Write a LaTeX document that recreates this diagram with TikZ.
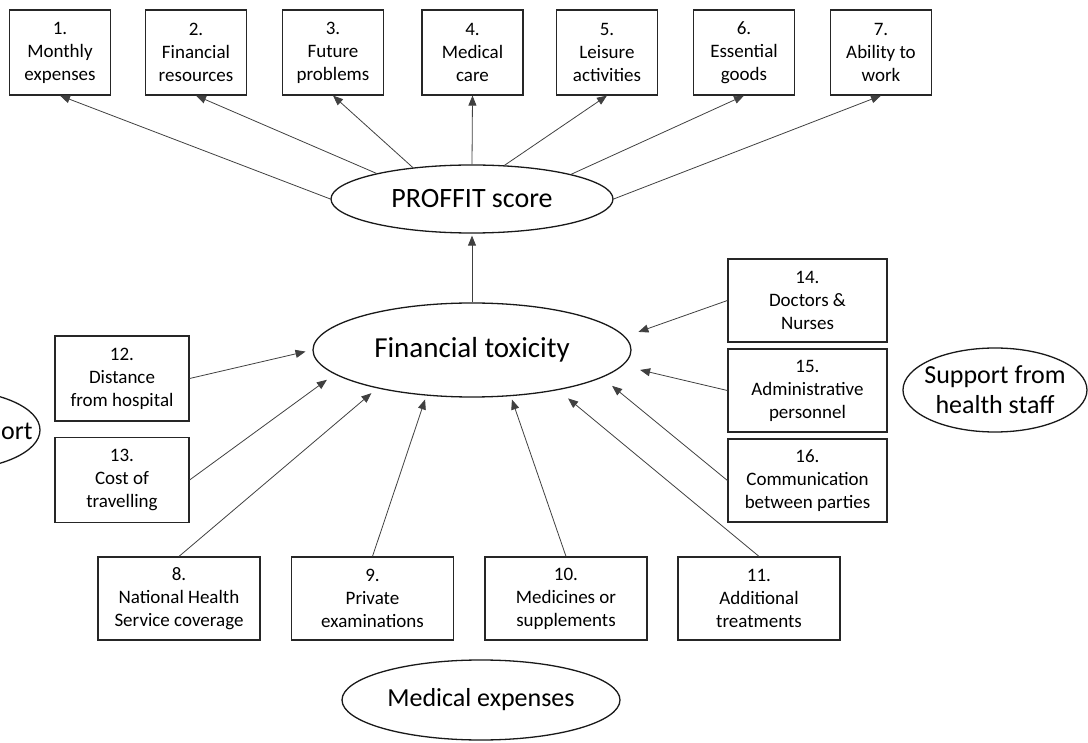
\documentclass[tikz,border=0pt]{standalone}
\usepackage{fontspec}
\setmainfont{Carlito}
\usetikzlibrary{shapes.geometric,arrows.meta}
\begin{document}
\begin{tikzpicture}[x=1pt,y=-1pt,
  box/.style={draw=black!85, line width=1.2pt, fill=white, align=center, inner sep=0pt, font=\fontsize{19}{23}\selectfont},
  topbox/.style={box, minimum width=101pt, minimum height=85pt},
  sidebox/.style={box, minimum width=134pt, minimum height=85pt},
  rightbox/.style={box, minimum width=159pt, minimum height=83pt},
  botbox/.style={box, minimum width=162pt, minimum height=83pt},
  oval/.style={draw=black!90, line width=1.3pt, ellipse, inner sep=0pt},
  arr/.style={draw=black!75, line width=0.8pt, -{Triangle[length=10pt,width=8pt]}}
]
\useasboundingbox (0,0) rectangle (1088,743);

% top row
\node[topbox] (b1) at (60,52.5) {1.\\Monthly\\expenses};
\node[topbox] (b2) at (196,52.5) {2.\\Financial\\resources};
\node[topbox] (b3) at (333,52.5) {3.\\Future\\problems};
\node[topbox] (b4) at (472.5,52.5) {4.\\Medical\\care};
\node[topbox] (b5) at (607,52.5) {5.\\Leisure\\activities};
\node[topbox] (b6) at (744,52.5) {6.\\Essential\\goods};
\node[topbox] (b7) at (881,52.5) {7.\\Ability to\\work};

% ellipses
\node[oval, minimum width=282pt, minimum height=68pt, font=\fontsize{28}{32}\selectfont] (proffit) at (472,199) {PROFFIT score};
\node[oval, minimum width=318pt, minimum height=94pt, font=\fontsize{29}{33}\selectfont] (fin) at (472,350) {Financial toxicity};
\node[oval, minimum width=184pt, minimum height=84pt] (support) at (995,390) {};
\node[align=center, inner sep=0pt, font=\fontsize{26}{30}\selectfont] (supportt) at (support.center) {Support from\\health staff};
\node[oval, minimum width=278pt, minimum height=80pt, font=\fontsize{26}{30}\selectfont] (medexp) at (481,700) {Medical expenses};
\node[oval, minimum width=180pt, minimum height=80pt] (travel) at (-50,430) {};
\node[anchor=base west, inner sep=0pt, font=\fontsize{26}{30}\selectfont] (travelt) at (1,439) {ort};

% left boxes
\node[sidebox] (b12) at (122,378.5) {12.\\Distance\\from hospital};
\node[sidebox] (b13) at (122,480) {13.\\Cost of\\travelling};

% right boxes
\node[rightbox] (b14) at (807.5,300.5) {14.\\Doctors \&\\Nurses};
\node[rightbox] (b15) at (807.5,390.5) {15.\\Administrative\\personnel};
\node[rightbox] (b16) at (807.5,480.5) {16.\\Communication\\between parties};

% bottom boxes
\node[botbox] (b8) at (179,598.5) {8.\\National Health\\Service coverage};
\node[botbox] (b9) at (372.5,598.5) {9.\\Private\\examinations};
\node[botbox] (b10) at (566,598.5) {10.\\Medicines or\\supplements};
\node[botbox] (b11) at (759,598.5) {11.\\Additional\\treatments};

% arrows to top boxes
\draw[arr] (proffit.west) -- (b1.south);
\draw[arr] (proffit.165) -- (b2.south);
\draw[arr] (proffit.152) -- (b3.south);
\draw[arr] (proffit.north) -- (b4.south);
\draw[arr] (proffit.46) -- (b5.south);
\draw[arr] (proffit.14) -- (b6.south);
\draw[arr] (proffit.east) -- (b7.south);
\draw[arr, shorten >=2pt] (fin.north) -- (proffit.south);

% arrows into financial toxicity
\draw[arr, shorten >=7pt] (b12.east) -- (fin.west);
\draw[arr, shorten >=9.5pt] (b13.east) -- (fin.190);
\draw[arr, shorten >=7.5pt] (b8.north) -- (fin.202);
\draw[arr, shorten >=4pt] (b9.north) -- (fin.225);
\draw[arr, shorten >=3.5pt] (b10.north) -- (fin.310);
\draw[arr, shorten >=13pt] (b11.north) -- (fin.335);
\draw[arr, shorten >=13pt] (b16.west) -- (fin.348);
\draw[arr, shorten >=18pt] (b15.west) -- (fin.354);
\draw[arr, shorten >=14pt] (b14.west) -- (fin.5);
\end{tikzpicture}
\end{document}
